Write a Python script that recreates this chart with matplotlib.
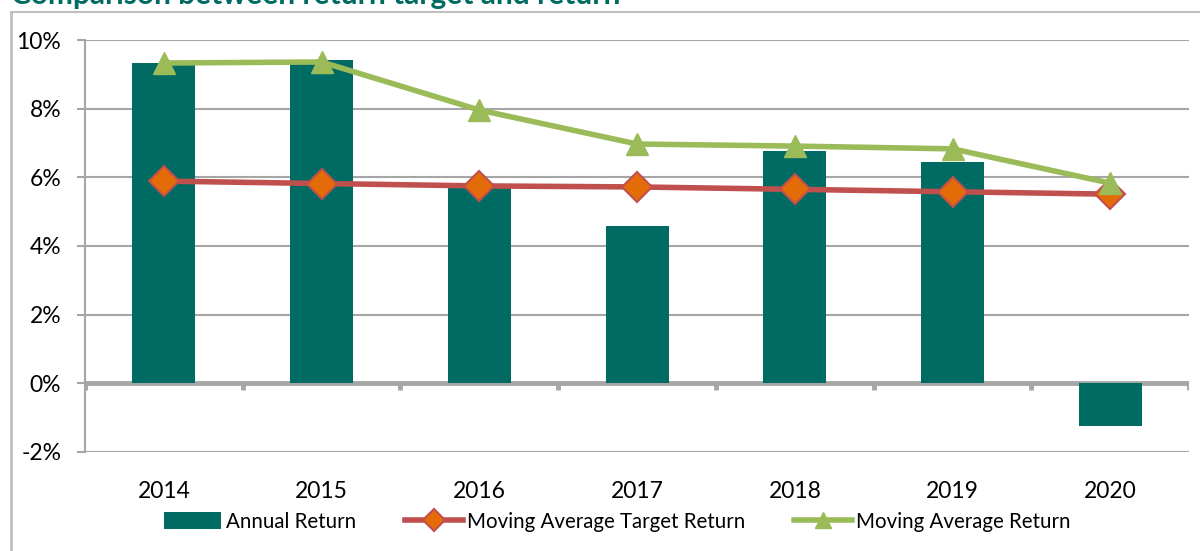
import numpy as np
import matplotlib.pyplot as plt
from matplotlib.lines import Line2D

plt.rcParams['font.family'] = ['Lato', 'DejaVu Sans']

# Data (percent)
years = ['2014', '2015', '2016', '2017', '2018', '2019', '2020']
annual_return = [9.33, 9.42, 5.70, 4.58, 6.78, 6.46, -1.24]
ma_target_return = [5.89, 5.82, 5.75, 5.72, 5.65, 5.58, 5.51]
ma_return = [9.33, 9.36, 7.96, 6.97, 6.91, 6.83, 5.83]

teal = '#006B63'
red = '#C0504D'
orange = '#E36C09'
green = '#9BBB59'
grey = '#A6A6A6'

fig = plt.figure(figsize=(12, 5.51), dpi=100)
ax = fig.add_axes([0.0708, 0.1797, 0.9202, 0.7477])

x = np.arange(len(years))
bars = ax.bar(x, annual_return, width=0.40, color=teal, zorder=2, label='Annual Return')
l1, = ax.plot(x, ma_target_return, color=red, lw=4, marker='D', ms=15,
              mfc=orange, mec=red, mew=1.5, zorder=3, label='Moving Average Target Return')
l2, = ax.plot(x, ma_return, color=green, lw=4, marker='^', ms=16,
              mfc=green, mec=green, zorder=4, label='Moving Average Return')

ax.set_xlim(-0.5, len(years) - 0.5)
ax.set_ylim(-2, 10)
ax.set_yticks(np.arange(-2, 11, 2))
ax.set_yticklabels([f'{v}%' for v in range(-2, 11, 2)])
ax.set_xticks(x)
ax.set_xticklabels(years)

for v in np.arange(-2, 11, 2):
    if v != 0:
        ax.axhline(v, color=grey, lw=1.5, zorder=1)
ax.axhline(0, color=grey, lw=3.5, zorder=1.5)
ax.vlines(np.arange(len(years) + 1) - 0.5, -0.2, 0, color=grey, lw=3.5, zorder=1.5)

for s in ['top', 'right', 'bottom']:
    ax.spines[s].set_visible(False)
ax.spines['left'].set_color(grey)
ax.spines['left'].set_linewidth(1.5)
ax.tick_params(axis='y', length=6, width=1.5, color=grey, pad=11, labelsize=16.5)
ax.tick_params(axis='x', length=0, pad=21, labelsize=16.5)

ax.legend(handles=[bars, l1, l2], loc='center', bbox_to_anchor=(0.482, -0.17),
          ncol=3, frameon=False, fontsize=14.8, handlelength=2.8, columnspacing=2.4,
          handletextpad=0.2, handleheight=0.9, markerscale=0.75)

# chart frame and cut-off title
fig.add_artist(Line2D([0.009, 0.009], [0, 0.978], color='#BFBFBF', lw=2))
fig.add_artist(Line2D([0.009, 1.0], [0.978, 0.978], color='#BFBFBF', lw=1.5))
fig.text(0.009, 0.992, 'Comparison between return target and return', color=teal,
         fontsize=21.5, fontweight='bold', va='baseline', ha='left')

fig.savefig('out.png', dpi=100)
